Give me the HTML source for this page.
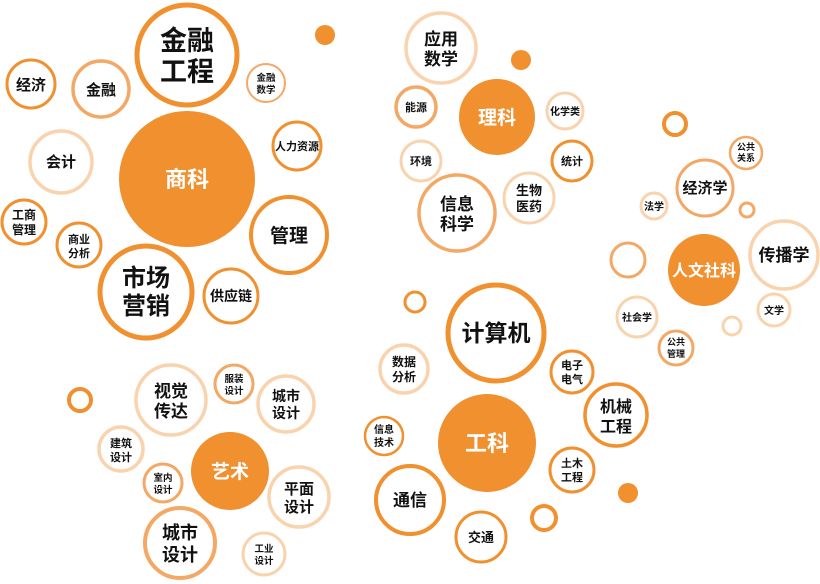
<!DOCTYPE html>
<html><head><meta charset="utf-8"><style>
html,body{margin:0;padding:0;background:#fff;width:820px;height:584px;overflow:hidden}
svg{display:block}
text{font-family:"Liberation Sans","Noto Sans CJK SC",sans-serif;font-weight:bold;fill:#111;text-anchor:middle}
.w{fill:#fff}
</style></head><body>
<svg width="820" height="584" viewBox="0 0 820 584" xmlns="http://www.w3.org/2000/svg">
<g fill="none">
<!-- business -->
<circle cx="187" cy="55" r="50" stroke="#F0902F" stroke-width="5"/>
<circle cx="31" cy="84" r="24" stroke="#F0902F" stroke-width="3"/>
<circle cx="101" cy="89" r="28" stroke="#F3A866" stroke-width="3.5"/>
<circle cx="266" cy="83" r="19" stroke="#F3A866" stroke-width="2"/>
<circle cx="61" cy="162" r="31" stroke="#F9D3AE" stroke-width="3.5"/>
<circle cx="297" cy="146" r="24" stroke="#F0902F" stroke-width="3"/>
<circle cx="24" cy="222" r="22" stroke="#F0902F" stroke-width="3"/>
<circle cx="79" cy="245" r="22" stroke="#F0902F" stroke-width="3"/>
<circle cx="289" cy="235" r="38" stroke="#F0902F" stroke-width="4"/>
<circle cx="146" cy="292" r="46" stroke="#F0902F" stroke-width="5"/>
<circle cx="231" cy="296" r="27" stroke="#F0902F" stroke-width="3"/>
<!-- science -->
<circle cx="441" cy="48" r="35" stroke="#F9D3AE" stroke-width="3.5"/>
<circle cx="416" cy="107" r="20" stroke="#F3A866" stroke-width="3.5"/>
<circle cx="565" cy="111" r="18" stroke="#F9D3AE" stroke-width="3"/>
<circle cx="421" cy="161" r="20" stroke="#F9D3AE" stroke-width="3"/>
<circle cx="572" cy="161" r="20" stroke="#F0902F" stroke-width="3"/>
<circle cx="457" cy="213" r="38" stroke="#F3A866" stroke-width="3.5"/>
<circle cx="529" cy="198" r="25" stroke="#F9D3AE" stroke-width="3"/>
<!-- humanities -->
<circle cx="675" cy="124" r="11" stroke="#F0902F" stroke-width="4"/>
<circle cx="746" cy="153" r="16" stroke="#F3A866" stroke-width="2.5"/>
<circle cx="705" cy="188" r="28" stroke="#F3A866" stroke-width="3"/>
<circle cx="654" cy="206" r="13" stroke="#F9D3AE" stroke-width="3"/>
<circle cx="747" cy="210" r="7" stroke="#F3A866" stroke-width="3"/>
<circle cx="628" cy="260" r="17" stroke="#F3A866" stroke-width="3"/>
<circle cx="784" cy="255" r="34" stroke="#F9D3AE" stroke-width="3.5"/>
<circle cx="637" cy="317" r="20" stroke="#F9D3AE" stroke-width="3"/>
<circle cx="774" cy="310" r="16" stroke="#F9D3AE" stroke-width="3"/>
<circle cx="732" cy="326" r="9" stroke="#F9D3AE" stroke-width="3"/>
<circle cx="676" cy="348" r="17" stroke="#F3A866" stroke-width="3"/>
<!-- engineering -->
<circle cx="415" cy="302" r="10" stroke="#F0902F" stroke-width="3"/>
<circle cx="496" cy="333" r="48" stroke="#F0902F" stroke-width="5"/>
<circle cx="404" cy="369" r="24" stroke="#F9D3AE" stroke-width="3.5"/>
<circle cx="572" cy="372" r="21" stroke="#F0902F" stroke-width="3"/>
<circle cx="616" cy="415" r="31" stroke="#F0902F" stroke-width="3.5"/>
<circle cx="384" cy="436" r="19" stroke="#F0902F" stroke-width="2.5"/>
<circle cx="572" cy="470" r="22" stroke="#F0902F" stroke-width="3"/>
<circle cx="410" cy="500" r="34" stroke="#F0902F" stroke-width="4"/>
<circle cx="544" cy="518" r="12" stroke="#F0902F" stroke-width="4"/>
<circle cx="481" cy="537" r="25" stroke="#F0902F" stroke-width="3"/>
<!-- art -->
<circle cx="80" cy="400" r="11" stroke="#F0902F" stroke-width="4"/>
<circle cx="171" cy="400" r="35" stroke="#F9D3AE" stroke-width="3.5"/>
<circle cx="234" cy="384" r="19" stroke="#F3A866" stroke-width="3"/>
<circle cx="286" cy="404" r="28" stroke="#F9D3AE" stroke-width="3.5"/>
<circle cx="121" cy="449" r="22" stroke="#F9D3AE" stroke-width="3.5"/>
<circle cx="163" cy="483" r="19" stroke="#F3A866" stroke-width="3"/>
<circle cx="299" cy="497" r="30" stroke="#F9D3AE" stroke-width="3.5"/>
<circle cx="180" cy="543" r="35" stroke="#F3A866" stroke-width="4"/>
<circle cx="264" cy="554" r="21" stroke="#F9D3AE" stroke-width="3"/>
</g>
<g fill="#F0902F">
<circle cx="325" cy="35" r="10"/>
<circle cx="187" cy="179" r="68"/>
<circle cx="521" cy="60" r="10"/>
<circle cx="497" cy="117" r="38"/>
<circle cx="704" cy="270" r="36"/>
<circle cx="487" cy="443" r="49"/>
<circle cx="628" cy="493" r="10"/>
<circle cx="230" cy="471" r="39"/>
</g>
<!-- texts -->
<text x="187" y="50" font-size="27">金融</text><text x="187" y="81" font-size="27">工程</text>
<text x="31" y="90" font-size="15">经济</text>
<text x="101" y="95" font-size="15">金融</text>
<text x="266" y="81" font-size="9.5">金融</text><text x="266" y="93" font-size="9.5">数学</text>
<text x="61" y="167" font-size="15">会计</text>
<text class="w" x="187" y="187" font-size="22">商科</text>
<text x="297" y="150" font-size="11">人力资源</text>
<text x="24" y="219" font-size="12">工商</text><text x="24" y="234" font-size="12">管理</text>
<text x="79" y="243" font-size="11">商业</text><text x="79" y="257" font-size="11">分析</text>
<text x="289" y="242" font-size="19">管理</text>
<text x="146" y="286" font-size="24">市场</text><text x="146" y="314" font-size="24">营销</text>
<text x="231" y="301" font-size="14">供应链</text>

<text x="441" y="45" font-size="17">应用</text><text x="441" y="65" font-size="17">数学</text>
<text x="416" y="111" font-size="11">能源</text>
<text class="w" x="497" y="124" font-size="19">理科</text>
<text x="565" y="115" font-size="10">化学类</text>
<text x="421" y="165" font-size="11">环境</text>
<text x="572" y="165" font-size="11">统计</text>
<text x="457" y="210" font-size="17">信息</text><text x="457" y="230" font-size="17">科学</text>
<text x="529" y="195" font-size="13">生物</text><text x="529" y="211" font-size="13">医药</text>

<text x="746" y="150" font-size="9">公共</text><text x="746" y="161" font-size="9">关系</text>
<text x="705" y="193" font-size="15">经济学</text>
<text x="654" y="210" font-size="10">法学</text>
<text class="w" x="704" y="276" font-size="16">人文社科</text>
<text x="784" y="261" font-size="17">传播学</text>
<text x="637" y="321" font-size="10">社会学</text>
<text x="774" y="314" font-size="10">文学</text>
<text x="676" y="345" font-size="9">公共</text><text x="676" y="357" font-size="9">管理</text>

<text x="496" y="341" font-size="23">计算机</text>
<text x="404" y="366" font-size="12">数据</text><text x="404" y="381" font-size="12">分析</text>
<text x="572" y="369" font-size="11">电子</text><text x="572" y="383" font-size="11">电气</text>
<text x="616" y="412" font-size="16">机械</text><text x="616" y="432" font-size="16">工程</text>
<text x="384" y="433" font-size="10">信息</text><text x="384" y="446" font-size="10">技术</text>
<text class="w" x="487" y="451" font-size="22">工科</text>
<text x="572" y="467" font-size="11">土木</text><text x="572" y="481" font-size="11">工程</text>
<text x="410" y="506" font-size="17">通信</text>
<text x="481" y="542" font-size="13">交通</text>

<text x="171" y="397" font-size="17">视觉</text><text x="171" y="417" font-size="17">传达</text>
<text x="234" y="382" font-size="9.5">服装</text><text x="234" y="394" font-size="9.5">设计</text>
<text x="286" y="401" font-size="14">城市</text><text x="286" y="418" font-size="14">设计</text>
<text x="121" y="447" font-size="11">建筑</text><text x="121" y="461" font-size="11">设计</text>
<text class="w" x="230" y="478" font-size="19">艺术</text>
<text x="163" y="481" font-size="9.5">室内</text><text x="163" y="493" font-size="9.5">设计</text>
<text x="299" y="494" font-size="15">平面</text><text x="299" y="512" font-size="15">设计</text>
<text x="180" y="539" font-size="18">城市</text><text x="180" y="561" font-size="18">设计</text>
<text x="264" y="552" font-size="9.5">工业</text><text x="264" y="564" font-size="9.5">设计</text>
</svg>
</body></html>
